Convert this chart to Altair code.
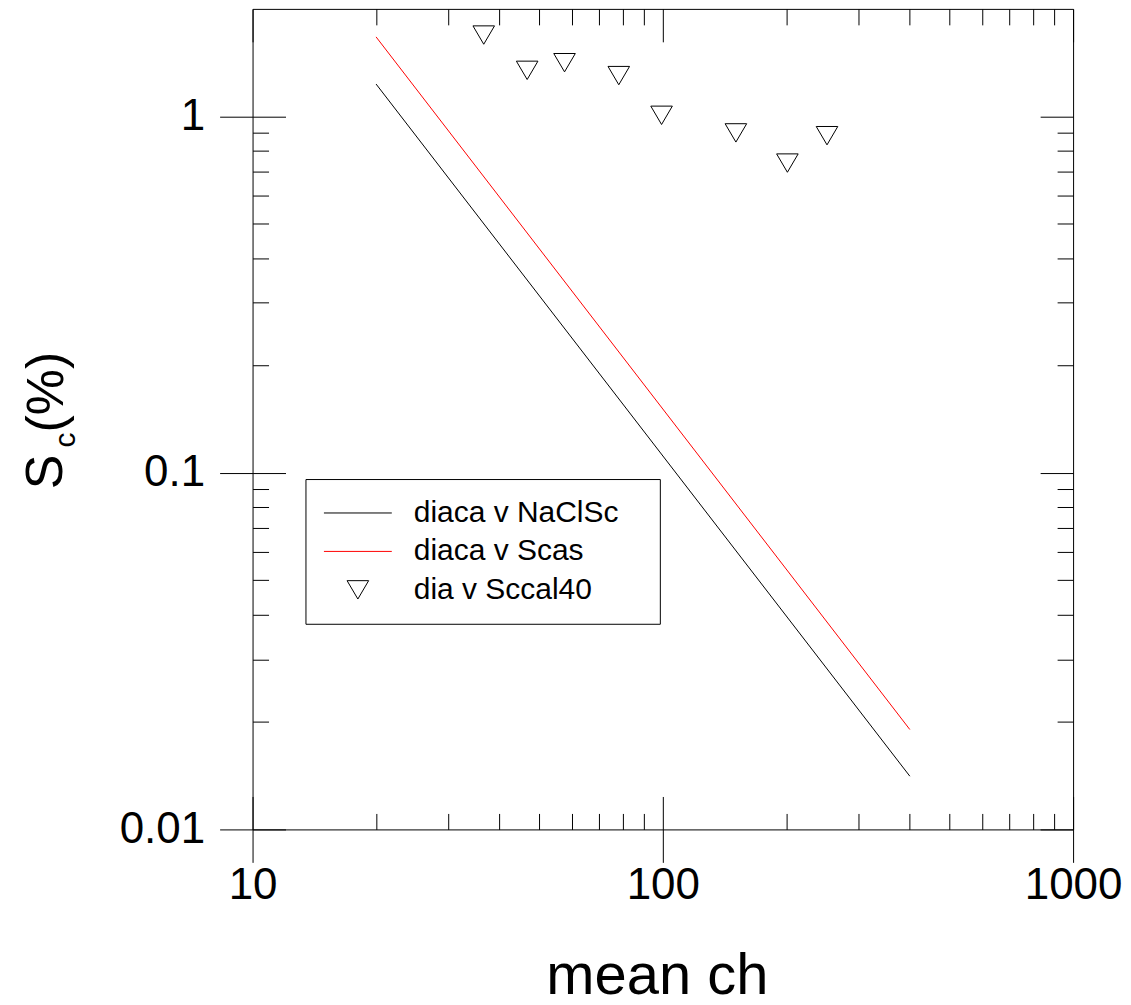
import altair as alt
import pandas as pd

# ---------------- data ----------------
series_names = ["diaca v NaClSc", "diaca v Scas", "dia v Sccal40"]
series_colors = ["#000000", "#ff0000", "#000000"]

line_x = [20, 400]
black_y = [1.231, 0.0141]
red_y = [1.669, 0.01906]

tri_x = [36.6, 46.7, 57.6, 78.1, 99.3, 150.7, 201.2, 251.3]
tri_y = [1.689, 1.345, 1.413, 1.300, 1.006, 0.898, 0.739, 0.882]

x_major = [10, 100, 1000]
x_minor = [20, 30, 40, 50, 60, 70, 80, 90, 200, 300, 400, 500, 600, 700, 800, 900]
y_major = [0.01, 0.1, 1]
y_minor = [0.02, 0.03, 0.04, 0.05, 0.06, 0.07, 0.08, 0.09,
           0.2, 0.3, 0.4, 0.5, 0.6, 0.7, 0.8, 0.9]
x_domain = [10, 1000]
y_domain = [0.01, 2.0]

x_title = "mean ch"
y_title_parts = ["S", "c", "(%)"]

FONT = "Liberation Sans"
W = H = 822

lines_df = pd.DataFrame({
    "x": line_x + line_x,
    "y": black_y + red_y,
    "series": [series_names[0]] * 2 + [series_names[1]] * 2,
    "col": [series_colors[0]] * 2 + [series_colors[1]] * 2,
})
pts_df = pd.DataFrame({"x": tri_x, "y": tri_y, "series": [series_names[2]] * len(tri_x)})

xs = alt.Scale(type="log", domain=x_domain, nice=False)
ys = alt.Scale(type="log", domain=y_domain, nice=False)


def ax(orient, values, size, offset=0, **kw):
    base = dict(orient=orient, values=values, tickSize=size, offset=offset,
                labels=False, domain=False, grid=False, title=None,
                tickColor="black", tickWidth=1)
    base.update(kw)
    return alt.Axis(**base)


# labelled axes (outer major ticks)
xA = ax("bottom", x_major, 33, labels=True, labelFontSize=44, labelFont=FONT,
        labelPadding=1, labelFlush=False, labelOverlap=False, format="d",
        labelColor="black", title=x_title, titleFontSize=58, titleFont=FONT,
        titleFontWeight="normal", titleX=405, titleY=164, titleAlign="center",
        titleBaseline="alphabetic", titleColor="black")
yA = ax("left", y_major, 33, labels=True, labelFontSize=44, labelFont=FONT,
        labelPadding=15, labelFlush=False, labelOverlap=False, format="~g",
        labelColor="black")

# inward ticks: bottom / left edges
xB = ax("top", x_major, 33, offset=-H)
yB = ax("right", y_major, 33, offset=-W)
xC = ax("top", x_minor, 16, offset=-H)
yC = ax("right", y_minor, 16, offset=-W)
# inward ticks: top / right edges
xD = ax("bottom", x_major, 33, offset=-H)
yD = ax("left", y_major, 33, offset=-W)
xE = ax("bottom", x_minor, 16, offset=-H)
yE = ax("left", y_minor, 16, offset=-W)

LINE_PATH = "M-3.4,0L3.4,0"
TRI_PATH = "M-1.08,-0.92L1.08,-0.92L0,0.92Z"

PADCHAR = "\u2800"
leg = alt.Legend(title=None, orient="none", legendX=53, legendY=471, padding=19,
                 strokeColor="black", fillColor="white", cornerRadius=0,
                 labelFontSize=30, labelFont=FONT, labelColor="black",
                 labelLimit=600, labelOffset=41, symbolOffset=18.5,
                 symbolSize=400, symbolStrokeWidth=1, rowPadding=8.5,
                 labelExpr="datum.label + '" + PADCHAR + "'")

lines = alt.Chart(lines_df).mark_line(strokeWidth=1).encode(
    x=alt.X("x:Q", scale=xs, axis=xA),
    y=alt.Y("y:Q", scale=ys, axis=yA),
    detail="series:N",
    stroke=alt.Stroke("col:N", scale=None),
)

points = alt.Chart(pts_df).mark_point(filled=False, size=400, strokeWidth=1, opacity=1).encode(
    x=alt.X("x:Q", scale=xs, axis=xB),
    y=alt.Y("y:Q", scale=ys, axis=yB),
    shape=alt.Shape("series:N", scale=alt.Scale(domain=series_names,
                                                range=[LINE_PATH, LINE_PATH, TRI_PATH]),
                    legend=leg),
    color=alt.Color("series:N", scale=alt.Scale(domain=series_names, range=series_colors),
                    legend=leg),
)


def dummy(xa, ya):
    return alt.Chart(lines_df).mark_point(opacity=0).encode(
        x=alt.X("x:Q", scale=xs, axis=xa),
        y=alt.Y("y:Q", scale=ys, axis=ya),
    )


def title_part(i, size, xpos, ypos):
    return alt.Chart(pd.DataFrame({"t": [y_title_parts[i]]})).mark_text(
        angle=270, fontSize=size, font=FONT, align="center", baseline="alphabetic",
        color="black"
    ).encode(x=alt.value(xpos), y=alt.value(ypos), text="t:N")


chart = alt.layer(
    lines, points,
    dummy(xC, yC), dummy(xD, yD), dummy(xE, yE),
    title_part(0, 52, -191, 464),
    title_part(1, 30, -178, 432),
    title_part(2, 52, -190, 384),
).resolve_axis(x="independent", y="independent").properties(
    width=W, height=H,
    padding={"left": 245, "top": 0, "right": 50, "bottom": 165},
    autosize=alt.AutoSizeParams(type="none"),
).configure(font=FONT).configure_view(stroke="black", strokeWidth=1)

chart.save("out.html", embed_options={"renderer": "svg", "actions": False})
